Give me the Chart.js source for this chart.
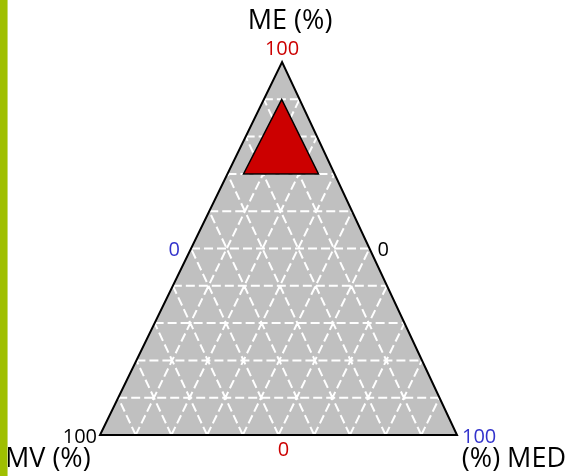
<!DOCTYPE html>
<html>
<head>
<meta charset="utf-8">
<script src="https://cdn.jsdelivr.net/npm/chart.js@4"></script>
<style>
  html, body { margin: 0; padding: 0; background: #fff; }
  #wrap { position: relative; width: 566px; height: 476px; }
  #bar { position: absolute; left: 0; top: 0; width: 7px; height: 476px; background: #9fbf00; border-right: 1px solid #c8dc70; }
</style>
</head>
<body>
<div id="wrap">
  <div id="bar"></div>
  <canvas id="ternaryChart"></canvas>
</div>
<script>
// axis names: ME (top), MV (bottom-left), MED (bottom-right)
const axisNames = ["ME (%)", "MV (%)", "(%) MED"];
const axisColors = ["#cc0000", "#000000", "#3333cc"];
// tick labels at each axis' 100 corner and 0 edge
const cornerLabels = ["100", "100", "100"];
const edgeLabels = ["0", "0", "0"];
// grid every 10 %
const gridTicks = [10, 20, 30, 40, 50, 60, 70, 80, 90];

// outer triangle corners (ME, MED); MV = 100 - ME - MED
const frameME = [0, 0, 100, 0, 0];
const frameMED = [50, 100, 0, 0, 50];

// highlighted region (red triangle)
const regionME = [70, 70, 90, 70, 70];
const regionMV = [15, 4.5, 5, 25.5, 15];
const regionMED = [15, 25.5, 5, 4.5, 15];

// apex sits a little right of the base centre
const apexShift = 0.51;

function toXY(me, med) {
  return { x: med + me * apexShift, y: me };
}

const framePts = frameME.map((me, i) => toXY(me, frameMED[i]));
const regionPts = regionME.map((me, i) => toXY(me, regionMED[i]));

const gridPts = [];
gridTicks.forEach((t) => {
  // ME = t
  gridPts.push(toXY(t, 0), toXY(t, 100 - t), { x: null, y: null });
  // MED = t
  gridPts.push(toXY(0, t), toXY(100 - t, t), { x: null, y: null });
  // MV = t
  gridPts.push(toXY(0, 100 - t), toXY(100 - t, 0), { x: null, y: null });
});

const labelPlugin = {
  id: "ternaryLabels",
  afterDatasetsDraw(chart) {
    const { ctx } = chart;
    const sx = chart.scales.x;
    const sy = chart.scales.y;
    const px = (me, med) => {
      const p = toXY(me, med);
      return { x: sx.getPixelForValue(p.x), y: sy.getPixelForValue(p.y) };
    };
    const apex = px(100, 0);
    const bl = px(0, 0);
    const br = px(0, 100);
    const midL = px(50, 0);
    const midR = px(50, 50);
    const baseMid = px(0, 50);
    const num = "20px 'Open Sans'";
    const name = "27px 'Open Sans'";

    function text(str, x, y, font, color, align) {
      ctx.font = font;
      ctx.fillStyle = color;
      ctx.textAlign = align;
      ctx.textBaseline = "alphabetic";
      ctx.fillText(str, x, y);
    }

    ctx.save();
    // ME
    text(axisNames[0], apex.x + 8, apex.y - 33, name, "#000", "center");
    text(cornerLabels[0], apex.x, apex.y - 7, num, axisColors[0], "center");
    text(edgeLabels[0], baseMid.x + 5, baseMid.y + 21, num, axisColors[0], "center");
    // MV
    text(cornerLabels[1], bl.x - 3, bl.y + 8, num, axisColors[1], "right");
    text(edgeLabels[1], midR.x + 8, midR.y + 7, num, axisColors[1], "left");
    text(axisNames[1], 5, 467, name, "#000", "left");
    // MED
    text(cornerLabels[2], br.x + 5, br.y + 8, num, axisColors[2], "left");
    text(edgeLabels[2], midL.x - 11, midL.y + 7, num, axisColors[2], "right");
    text(axisNames[2], 566, 467, name, "#000", "right");
    ctx.restore();
  },
};

const ctx = document.getElementById("ternaryChart").getContext("2d");
new Chart(ctx, {
  type: "scatter",
  data: {
    datasets: [
      {
        data: framePts,
        showLine: true,
        fill: "shape",
        backgroundColor: "#c0c0c0",
        borderWidth: 0,
        order: 4,
      },
      {
        data: gridPts,
        showLine: true,
        spanGaps: false,
        fill: false,
        borderColor: "#ffffff",
        borderWidth: 2,
        borderDash: [9, 4],
        order: 3,
      },
      {
        data: framePts,
        showLine: true,
        fill: false,
        borderColor: "#000000",
        borderWidth: 2,
        order: 2,
      },
      {
        data: regionPts,
        showLine: true,
        fill: "shape",
        backgroundColor: "#cc0000",
        borderColor: "#000000",
        borderWidth: 1.5,
        order: 1,
      },
    ],
  },
  options: {
    responsive: true,
    maintainAspectRatio: false,
    animation: false,
    events: [],
    clip: false,
    layout: { padding: { left: 100, right: 109, top: 62, bottom: 41 } },
    elements: { point: { radius: 0 }, line: { tension: 0 } },
    scales: {
      x: { type: "linear", min: 0, max: 100, display: false },
      y: { type: "linear", min: 0, max: 100, display: false },
    },
    plugins: {
      legend: { display: false },
      tooltip: { enabled: false },
    },
  },
  plugins: [labelPlugin],
});
</script>
</body>
</html>
